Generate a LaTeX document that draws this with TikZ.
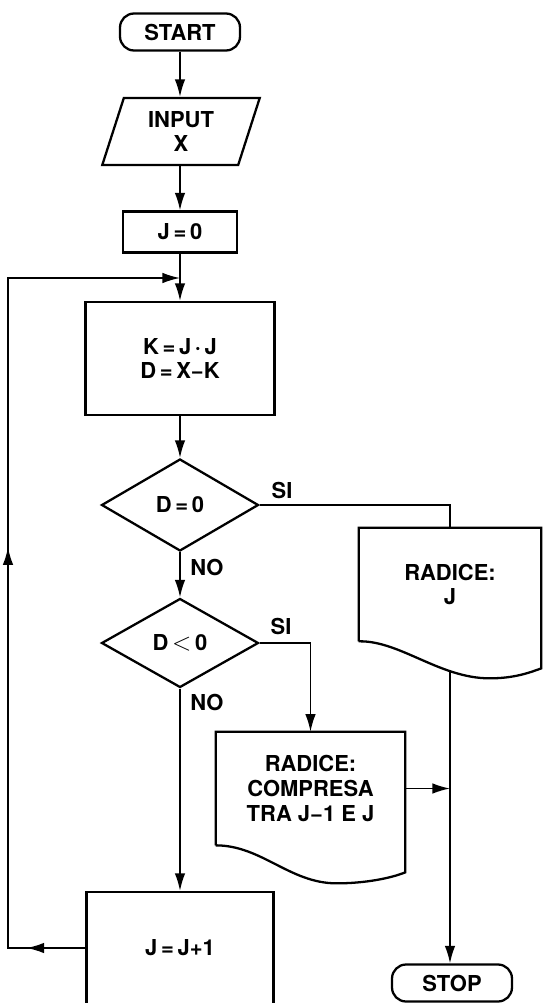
\documentclass[tikz,border=0pt]{standalone}
\usepackage{fontspec}
\setmainfont{TeX Gyre Heros}
\usepackage{tikz}
\usetikzlibrary{calc, shapes.geometric, arrows.meta, decorations.markings}

\begin{document}
\begin{tikzpicture}[x=0.02cm, y=-0.02cm, >={Latex[length=10pt,width=6pt]},
    font=\fontsize{12.5}{14}\selectfont\bfseries,
    shapeline/.style={draw, line width=1.3pt},
    flow/.style={line width=0.9pt},
    term/.style={shapeline, rectangle, rounded corners=8pt, minimum width=2.4cm, minimum height=0.74cm, inner sep=0pt},
    iobox/.style={shapeline, trapezium, trapezium left angle=73, trapezium right angle=107, trapezium stretches=true, minimum width=3.16cm, minimum height=1.34cm, inner sep=0pt, align=center},
    procbox/.style={shapeline, rectangle, inner sep=0pt, align=center},
    decision/.style={shapeline, diamond, minimum width=3.14cm, minimum height=1.84cm, inner sep=0pt},
    doctext/.style={rectangle, inner sep=0pt, align=center},
    midarrows/.style={postaction={decorate}, decoration={markings,
        mark=at position 0.064 with {\arrow{>}},
        mark=at position 0.52 with {\arrow{>}}}}]
    % Khung ảnh theo kích thước gốc
    \useasboundingbox (0,0) rectangle (543,1003);
    \clip (0,0) rectangle (543,1003);

    % Cột chính: bắt đầu, nhập, gán
    \node[term] (start) at (180,32) {START};
    \node[iobox] (input) at (181,131.5) {INPUT\\X};
    \node[procbox, minimum width=2.28cm, minimum height=0.82cm] (jzero) at (180,232) {J\,=\,0};
    \node[procbox, minimum width=3.78cm, minimum height=2.26cm] (kd) at (180,358.5) {K\,=\,J\,·\,J\\D\,=\,X−K};

    % Hai ô điều kiện
    \node[decision] (dzero) at (180,505) {D\,=\,0};
    \node[decision, minimum height=1.78cm] (dneg) at (180,643) {D\,{\fontsize{15}{15}\selectfont$<$}\,0};

    % Tăng J
    \node[procbox, minimum width=3.74cm, minimum height=2.24cm] (jinc) at (180,948) {J\,=\,J+1};

    % Hai ô tài liệu (kết quả)
    \node[doctext, minimum width=3.64cm, minimum height=2.26cm] (radj) at (450,584.5) {RADICE:\\J};
    \node[doctext, minimum width=3.78cm, minimum height=2.26cm] (radc) at (310.5,788.5) {RADICE:\\COMPRESA\\TRA J−1 E J};
    \draw[shapeline] (radj.south west) -- (radj.north west) -- (radj.north east)
        -- ($(radj.south east)+(0,27)$) .. controls +(-11,4) and +(25,0) .. ($(radj.south west)+(131,37)$)
        .. controls +(-50,0) and +(41,-1) .. (radj.south west);
    \draw[shapeline] (radc.south west) -- (radc.north west) -- (radc.north east)
        -- ($(radc.south east)+(0,27)$) .. controls +(-15,6) and +(28,0) .. ($(radc.south west)+(121,38)$)
        .. controls +(-47,0) and +(46,0) .. (radc.south west);
    \coordinate (radjbot) at (450,671);

    % Kết thúc
    \node[term] (stop) at (452,983) {STOP};

    % Nhãn SI / NO
    \node (si1) at (282,490) {SI};
    \node (no1) at (207,567) {NO};
    \node (si2) at (281,626) {SI};
    \node (no2) at (207,702) {NO};

    % Các mũi tên nối
    \draw[flow,->] (start) -- (start |- input.north);
    \draw[flow,->] (input.south -| jzero) -- (jzero);
    \draw[flow,->] (jzero) -- (kd);
    \draw[flow,->] (kd) -- (dzero);
    \draw[flow,->] (dzero) -- (dneg);
    \draw[flow,->] (dneg) -- (jinc);
    \draw[flow] (dzero.east) -| (radj.north);
    \draw[flow,->] (dneg.east) -| (radc.north);
    \draw[flow,->] (radjbot) -- (radjbot |- stop.north);
    \draw[flow,->] (radc.east) -- (radc.east -| radjbot);

    % Vòng lặp quay lại
    \coordinate (looptop) at (8,278);
    \coordinate (loopin) at (180,278);
    \draw[flow,->,midarrows] (jinc.west) -| (looptop) -- (loopin);
\end{tikzpicture}
\end{document}
